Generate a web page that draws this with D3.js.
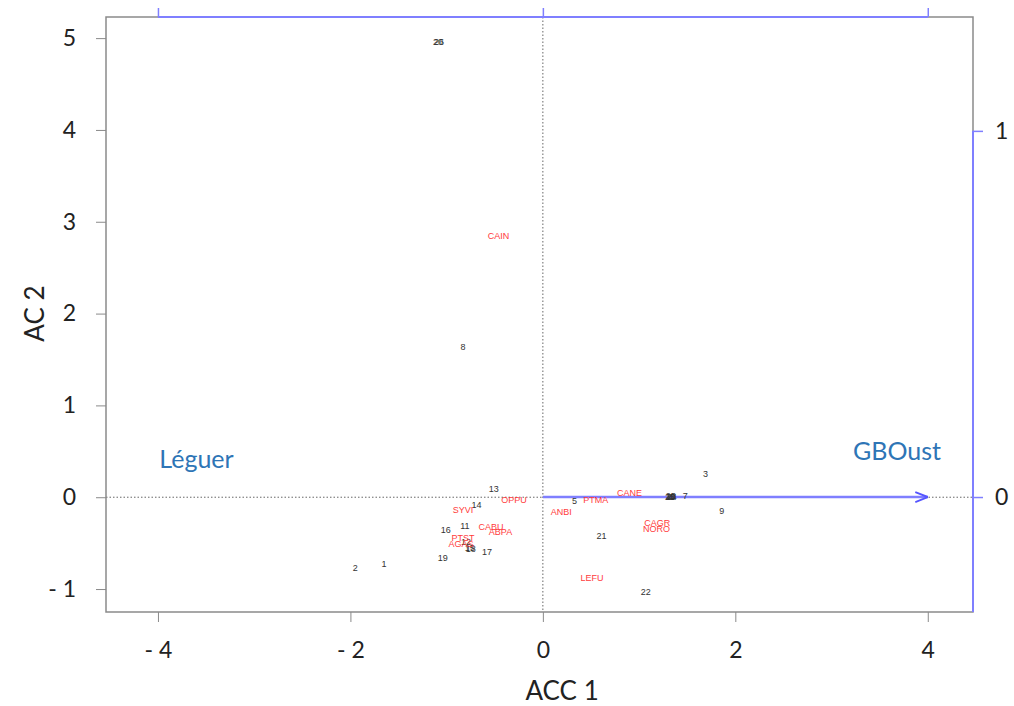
<!DOCTYPE html>
<html>
<head>
<meta charset="utf-8">
<script src="https://cdn.jsdelivr.net/npm/d3@7"></script>
<style>
  body { margin: 0; background: #fff; }
  svg { display: block; }
</style>
</head>
<body>
<script>
// Sites (row scores)
const siteLabels = ['1', '2', '3', '4', '5', '6', '7', '8', '9', '10', '11', '12', '13',
  '14', '15', '16', '17', '18', '19', '20', '21', '22', '23', '24', '25', '26'];
const siteAcc1 = [-1.65, -1.95, 1.69, 1.33, 0.33, 1.34, 1.48, -0.83, 1.86, 1.33, -0.81, -0.80, -0.51,
  -0.69, -0.76, -1.01, -0.58, -0.75, -1.04, -1.09, 0.61, 1.07, 1.32, 1.34, 1.33, -1.08];
const siteAc2 = [-0.73, -0.77, 0.25, 0.00, -0.04, 0.00, 0.01, 1.64, -0.15, 0.00, -0.31, -0.49, 0.09,
  -0.08, -0.55, -0.36, -0.60, -0.56, -0.66, 4.96, -0.42, -1.03, 0.00, 0.00, 0.01, 4.96];

// Species (column scores)
const speciesLabels = ['CAIN', 'OPPU', 'SYVI', 'CABU', 'ABPA', 'PTST', 'AGAS', 'ANBI', 'PTMA',
  'CANE', 'CAGR', 'NORO', 'LEFU'];
const speciesAcc1 = [-0.46, -0.30, -0.83, -0.54, -0.44, -0.83, -0.85, 0.19, 0.55, 0.90, 1.19, 1.18, 0.51];
const speciesAc2 = [2.85, -0.03, -0.14, -0.32, -0.38, -0.44, -0.51, -0.16, -0.03, 0.05, -0.28, -0.34, -0.88];

// Constraining factor (arrow + level labels, in the blue axes' units)
const arrowName = ['GBOust'];
const arrowAcc1 = [1];
const arrowAc2 = [0];
const levelLabels = ['Léguer', 'GBOust'];
const levelAcc1 = [-0.90, 0.92];
const levelAc2 = [0.08, 0.10];

const xTicks = [-4, -2, 0, 2, 4];
const yTicks = [-1, 0, 1, 2, 3, 4, 5];
const envTopTicks = [-1, 0, 1];
const envRightTicks = [0, 1];

const width = 1014;
const height = 706;
const margin = { top: 17, right: 41, bottom: 94, left: 106 };
const font = 'Lato, "Open Sans", sans-serif';

const x = d3.scaleLinear().domain([-4.54, 4.47]).range([margin.left, width - margin.right]);
const y = d3.scaleLinear().domain([-1.25, 5.23]).range([height - margin.bottom, margin.top]);
const envX = d3.scaleLinear().domain(x.domain().map(d => d / 4)).range(x.range());
const envY = d3.scaleLinear().domain([-0.314, 1.311]).range(y.range());

const minus = v => (v < 0 ? '- ' + Math.abs(v) : String(v));

const svg = d3.select('body')
  .append('svg')
  .attr('width', width)
  .attr('height', height);

// Zero lines
svg.append('line')
  .attr('x1', x(0)).attr('x2', x(0))
  .attr('y1', margin.top).attr('y2', height - margin.bottom)
  .style('stroke', '#666').style('stroke-dasharray', '1.5,2').style('stroke-width', 1);
svg.append('line')
  .attr('x1', margin.left).attr('x2', width - margin.right)
  .attr('y1', y(0)).attr('y2', y(0))
  .style('stroke', '#666').style('stroke-dasharray', '1.5,2').style('stroke-width', 1);

// Frame
svg.append('rect')
  .attr('x', margin.left).attr('y', margin.top)
  .attr('width', width - margin.left - margin.right)
  .attr('height', height - margin.top - margin.bottom)
  .style('fill', 'none').style('stroke', '#8a8a8a').style('stroke-width', 1.5);

// Bottom axis
const xAxis = svg.append('g')
  .attr('transform', `translate(0, ${height - margin.bottom})`)
  .call(d3.axisBottom(x).tickValues(xTicks).tickSize(10).tickPadding(20).tickFormat(minus));
xAxis.select('.domain').remove();
xAxis.selectAll('line').style('stroke', '#8a8a8a');
xAxis.selectAll('text').style('font-family', font).style('font-size', '23px').style('fill', '#222');

// Left axis
const yAxis = svg.append('g')
  .attr('transform', `translate(${margin.left}, 0)`)
  .call(d3.axisLeft(y).tickValues(yTicks).tickSize(10).tickPadding(20).tickFormat(minus));
yAxis.select('.domain').remove();
yAxis.selectAll('line').style('stroke', '#8a8a8a');
yAxis.selectAll('text').style('font-family', font).style('font-size', '23px').style('fill', '#222');

// Top (blue) axis
const blue = '#7f7fff';
const topAxis = svg.append('g')
  .attr('transform', `translate(0, ${margin.top})`)
  .call(d3.axisTop(envX).tickValues(envTopTicks).tickSize(9).tickFormat(''));
topAxis.select('.domain').remove();
topAxis.selectAll('line').style('stroke', blue).style('stroke-width', 1.5);
topAxis.append('line')
  .attr('x1', envX(-1)).attr('x2', envX(1))
  .style('stroke', blue).style('stroke-width', 2);

// Right (blue) axis
const rightAxis = svg.append('g')
  .attr('transform', `translate(${width - margin.right}, 0)`)
  .call(d3.axisRight(envY).tickValues(envRightTicks).tickSize(10).tickPadding(12).tickFormat(d3.format('d')));
rightAxis.select('.domain').remove();
rightAxis.selectAll('line').style('stroke', blue).style('stroke-width', 1.5);
rightAxis.selectAll('text').style('font-family', font).style('font-size', '23px').style('fill', '#222');
rightAxis.append('line')
  .attr('y1', envY(1)).attr('y2', height - margin.bottom)
  .style('stroke', blue).style('stroke-width', 2);

// Axis titles
svg.append('text')
  .attr('x', x(0.2)).attr('y', 700)
  .attr('text-anchor', 'middle')
  .style('font-family', font).style('font-size', '26px').style('fill', '#222')
  .text('ACC 1');
svg.append('text')
  .attr('transform', `translate(44, ${y(2)}) rotate(-90)`)
  .attr('text-anchor', 'middle')
  .style('font-family', font).style('font-size', '26px').style('fill', '#222')
  .text('AC 2');

// Arrow
svg.append('defs').append('marker')
  .attr('id', 'head')
  .attr('viewBox', '0 0 10 10')
  .attr('refX', 10).attr('refY', 5)
  .attr('markerWidth', 5).attr('markerHeight', 5)
  .attr('orient', 'auto')
  .append('path')
  .attr('d', 'M0,1 L10,5 L0,9')
  .style('fill', 'none').style('stroke', '#5555ff').style('stroke-width', 1.5);

svg.append('g')
  .selectAll('line')
  .data(arrowName.map((n, i) => ({ n, a: arrowAcc1[i], b: arrowAc2[i] })))
  .join('line')
  .attr('x1', envX(0)).attr('y1', envY(0))
  .attr('x2', d => envX(d.a)).attr('y2', d => envY(d.b))
  .attr('marker-end', 'url(#head)')
  .style('stroke', blue).style('stroke-width', 2.5);

// Level labels
svg.append('g')
  .selectAll('text')
  .data(levelLabels.map((t, i) => ({ t, a: levelAcc1[i], b: levelAc2[i] })))
  .join('text')
  .attr('x', d => envX(d.a)).attr('y', d => envY(d.b))
  .attr('text-anchor', 'middle')
  .style('font-family', font).style('font-size', '25px').style('fill', '#2e75b6')
  .text(d => d.t);

// Sites
svg.append('g')
  .selectAll('text')
  .data(siteLabels.map((t, i) => ({ t, a: siteAcc1[i], b: siteAc2[i] })))
  .join('text')
  .attr('x', d => x(d.a)).attr('y', d => y(d.b))
  .attr('text-anchor', 'middle').attr('dy', '0.35em')
  .style('font-family', 'Arial, "Liberation Sans", sans-serif').style('font-size', '9px').style('fill', '#333')
  .text(d => d.t);

// Species
svg.append('g')
  .selectAll('text')
  .data(speciesLabels.map((t, i) => ({ t, a: speciesAcc1[i], b: speciesAc2[i] })))
  .join('text')
  .attr('x', d => x(d.a)).attr('y', d => y(d.b))
  .attr('text-anchor', 'middle').attr('dy', '0.35em')
  .style('font-family', 'Arial, "Liberation Sans", sans-serif').style('font-size', '9px').style('fill', '#ff3b3b')
  .text(d => d.t);
</script>
</body>
</html>
